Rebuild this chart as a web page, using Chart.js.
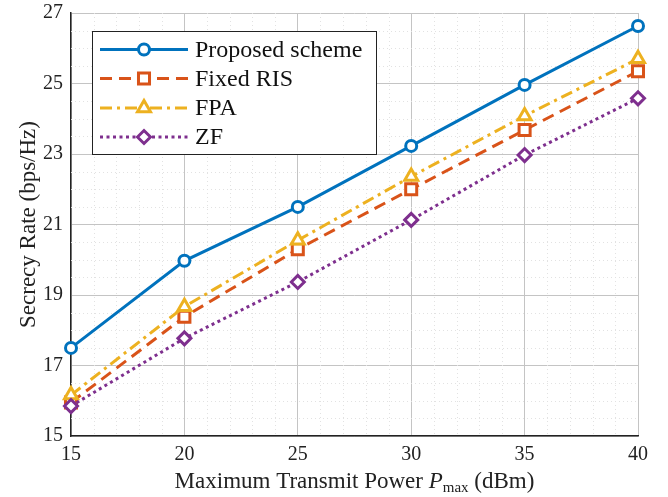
<!DOCTYPE html>
<html>
<head>
<meta charset="utf-8">
<script src="https://cdn.jsdelivr.net/npm/chart.js@4.4.0/dist/chart.umd.min.js"></script>
<style>
  html, body { margin: 0; padding: 0; background: #fff; }
  #wrap { width: 668px; height: 497px; }
</style>
</head>
<body>
<div id="wrap"><canvas id="grafico" width="668" height="497"></canvas></div>
<script>
// ==========================
// Data
// ==========================
const power = [15, 20, 25, 30, 35, 40];
const proposed = [17.50, 19.97, 21.50, 23.23, 24.96, 26.63];
const fixedRis = [15.95, 18.38, 20.30, 22.00, 23.68, 25.35];
const fpa = [16.16, 18.67, 20.55, 22.36, 24.08, 25.70];
const zf = [15.85, 17.77, 19.37, 21.13, 22.97, 24.58];

const xTicks = [15, 20, 25, 30, 35, 40];
const yTicks = [15, 17, 19, 21, 23, 25, 27];
const seriesNames = ['Proposed scheme', 'Fixed RIS', 'FPA', 'ZF'];

// ==========================
// Styles
// ==========================
const SERIF = '"Liberation Serif", "Times New Roman", serif';
const GRID = '#c4c4c4';
const styles = [
  { color: '#0072BD', dash: [], point: 'circle', radius: 5.5 },
  { color: '#D95319', dash: [12, 7], point: 'rect', radius: 7.8 },
  { color: '#EDB120', dash: [12, 5, 3, 5], point: 'triangle', radius: 7.5 },
  { color: '#7E2F8E', dash: [3, 3.5], point: 'rectRot', radius: 6.5 }
];

function makeDataset(i, values) {
  const s = styles[i];
  return {
    label: seriesNames[i],
    data: power.map((p, k) => ({ x: p, y: values[k] })),
    borderColor: s.color,
    borderWidth: 3,
    borderDash: s.dash,
    pointStyle: s.point,
    pointRadius: s.radius,
    pointBorderWidth: 3,
    pointBorderColor: s.color,
    pointBackgroundColor: '#fff',
    tension: 0,
    clip: false,
    order: 4 - i
  };
}

// ==========================
// Minor grid, legend, titles
// ==========================
const extras = {
  id: 'extras',
  beforeDatasetsDraw(chart) {
    const { ctx, chartArea: a, scales } = chart;
    ctx.save();
    ctx.strokeStyle = '#e2e2e2';
    ctx.lineWidth = 1;
    ctx.setLineDash([1, 3]);
    for (let v = 16; v < 40; v++) {
      if (v % 5 === 0) continue;
      const x = Math.round(scales.x.getPixelForValue(v)) + 0.5;
      ctx.beginPath(); ctx.moveTo(x, a.top); ctx.lineTo(x, a.bottom); ctx.stroke();
    }
    for (let v = 15.5; v < 27; v += 0.5) {
      if (v % 2 === 1) continue;
      const y = Math.round(scales.y.getPixelForValue(v)) + 0.5;
      ctx.beginPath(); ctx.moveTo(a.left, y); ctx.lineTo(a.right, y); ctx.stroke();
    }
    ctx.restore();
  },
  afterDraw(chart) {
    const { ctx, chartArea: a } = chart;
    ctx.save();

    // legend box
    const box = { x: 92.5, y: 31.5, w: 284, h: 123 };
    ctx.fillStyle = '#fff';
    ctx.fillRect(box.x, box.y, box.w, box.h);
    ctx.strokeStyle = '#222';
    ctx.lineWidth = 1;
    ctx.setLineDash([]);
    ctx.strokeRect(box.x, box.y, box.w, box.h);

    const rows = [49.5, 78.5, 108, 137];
    ctx.font = '24px ' + SERIF;
    ctx.textBaseline = 'middle';
    styles.forEach((s, i) => {
      const y = rows[i];
      ctx.strokeStyle = s.color;
      ctx.lineWidth = 3;
      ctx.setLineDash(s.dash);
      ctx.beginPath(); ctx.moveTo(100, y); ctx.lineTo(188, y); ctx.stroke();
      ctx.setLineDash([]);
      ctx.fillStyle = '#fff';
      ctx.strokeStyle = s.color;
      ctx.lineWidth = 3;
      Chart.helpers.drawPoint(ctx, { pointStyle: s.point, radius: s.radius, borderWidth: 3 }, 144, y);
      ctx.fillStyle = '#111';
      ctx.fillText(seriesNames[i], 195, y + 1);
    });

    // x axis title with italic P and subscript
    ctx.fillStyle = '#222';
    ctx.textBaseline = 'alphabetic';
    const base = 488;
    const parts = [
      { t: 'Maximum Transmit Power ', f: '23px ' + SERIF, dy: 0 },
      { t: 'P', f: 'italic 23px ' + SERIF, dy: 0 },
      { t: 'max', f: '15px ' + SERIF, dy: 4 },
      { t: ' (dBm)', f: '23px ' + SERIF, dy: 0 }
    ];
    let total = 0;
    parts.forEach(p => { ctx.font = p.f; p.w = ctx.measureText(p.t).width; total += p.w; });
    let x = (a.left + a.right) / 2 - total / 2;
    parts.forEach(p => { ctx.font = p.f; ctx.fillText(p.t, x, base + p.dy); x += p.w; });

    // y axis title
    ctx.translate(29, (a.top + a.bottom) / 2);
    ctx.rotate(-Math.PI / 2);
    ctx.font = '23px ' + SERIF;
    ctx.textAlign = 'center';
    ctx.textBaseline = 'middle';
    ctx.fillText('Secrecy Rate (bps/Hz)', 0, 0);
    ctx.restore();
  }
};

// ==========================
// Chart
// ==========================
const ctx = document.getElementById('grafico').getContext('2d');
const grafico = new Chart(ctx, {
  type: 'line',
  data: {
    datasets: [
      makeDataset(0, proposed),
      makeDataset(1, fixedRis),
      makeDataset(2, fpa),
      makeDataset(3, zf)
    ]
  },
  options: {
    responsive: false,
    animation: false,
    layout: { padding: { top: 13, right: 30, left: 0, bottom: 0 } },
    plugins: { legend: { display: false }, tooltip: { enabled: false } },
    scales: {
      x: {
        type: 'linear', min: 15, max: 40,
        afterBuildTicks: s => { s.ticks = xTicks.map(v => ({ value: v })); },
        afterFit: s => { s.height = 61; s.paddingLeft = 0; s.paddingRight = 0; },
        grid: { color: GRID, drawTicks: false },
        border: { color: '#222', width: 1.5 },
        ticks: { padding: 7, color: '#222', font: { family: SERIF, size: 20 } }
      },
      y: {
        min: 15, max: 27,
        afterBuildTicks: s => { s.ticks = yTicks.map(v => ({ value: v })); },
        afterFit: s => { s.width = 71; s.paddingTop = 0; s.paddingBottom = 0; },
        grid: { color: GRID, drawTicks: false },
        border: { color: '#222', width: 1.5 },
        ticks: { padding: 8, color: '#222', font: { family: SERIF, size: 20 } }
      }
    }
  },
  plugins: [extras]
});
</script>
</body>
</html>
